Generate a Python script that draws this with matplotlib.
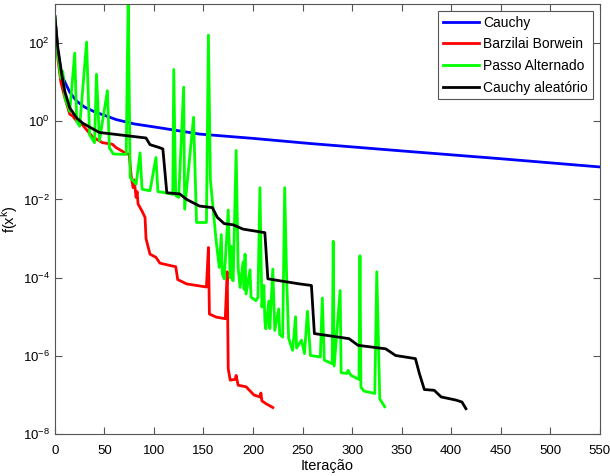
import matplotlib
matplotlib.use("Agg")
import matplotlib.pyplot as plt
import numpy as np

plt.rcParams["font.family"] = ["Liberation Sans", "DejaVu Sans"]

# values, as (iteration, log10 f)
cauchy_it = [0, 3, 6, 9, 15, 22, 30, 40, 62, 80, 106, 146, 200, 257, 350, 450, 550]
cauchy_lf = [2.67, 1.78, 1.3, 1.06, 0.74, 0.51, 0.36, 0.24, 0.04, -0.07, -0.17,
             -0.33, -0.44, -0.57, -0.76, -0.96, -1.17]

bb_it = [0, 3, 6, 10, 15, 18, 22, 28, 38, 48, 58, 62, 73, 75, 77, 79, 80, 82, 83,
         84, 88, 91, 92, 96, 102, 106, 118, 122, 124, 133, 153, 155, 156, 163, 172,
         174, 175, 177, 182, 183, 185, 193, 201, 207, 208, 209, 213, 220]
bb_lf = [2.67, 1.6, 1.0, 0.6, 0.18, 0.13, 0.0, -0.1, -0.4, -0.55, -0.59, -0.68,
         -0.84, -0.84, -1.4, -1.7, -1.5, -1.95, -1.8, -2.12, -2.3, -2.46, -3.0,
         -3.4, -3.48, -3.63, -3.7, -3.72, -4.05, -4.16, -4.24, -3.23, -4.93, -5.01,
         -5.05, -3.85, -6.33, -6.62, -6.6, -6.5, -6.75, -6.79, -7.0, -7.05, -6.95,
         -7.15, -7.22, -7.32]

pa_it = [0, 3, 6, 8, 10, 15, 20, 22, 25, 32, 35, 40, 42, 45, 53, 55, 59, 72, 74,
         76, 82, 86, 88, 96, 102, 104, 109, 119, 120, 122, 125, 130, 131, 140, 143,
         153, 155, 157, 163, 166, 168, 169, 171, 175, 177, 178, 179, 180, 183, 185,
         187, 190, 191, 192, 193, 197, 198, 203, 205, 207, 209, 211, 212, 213, 216,
         217, 220, 222, 226, 227, 230, 232, 234, 236, 240, 243, 244, 249, 252, 255,
         258, 268, 270, 272, 280, 281, 282, 288, 289, 295, 296, 299, 307, 308, 309,
         312, 323, 325, 328, 333]
pa_lf = [2.67, 1.7, 1.1, 1.27, 0.6, 0.25, 1.74, 0.0, -0.13, 2.02, -0.35, -0.55,
         1.2, -0.5, 0.78, -0.68, -0.84, -0.85, 3.2, -1.44, -1.61, -0.81, -1.74,
         -1.78, -0.93, -1.8, -1.82, -1.87, 1.32, -1.9, -1.95, 0.87, -2.25, 0.1,
         -2.59, -2.59, 2.2, -1.5, -3.11, -3.74, -2.9, -3.9, -4.03, -2.27, -4.0,
         -3.2, -4.05, -4.08, -0.75, -3.74, -4.25, -3.6, -4.3, -3.4, -4.42, -3.8,
         -4.5, -4.59, -4.5, -1.7, -4.75, -4.2, -5.1, -5.31, -4.6, -5.3, -3.78,
         -5.35, -4.8, -5.45, -5.52, -1.7, -4.0, -5.55, -5.86, -5.0, -5.8, -5.6,
         -5.94, -4.86, -5.99, -6.03, -4.52, -6.11, -6.2, -3.07, -6.26, -4.33,
         -6.43, -6.45, -6.37, -6.5, -6.6, -3.44, -6.8, -6.9, -6.96, -3.85, -7.1,
         -7.3]

ca_it = [0, 3, 7, 10, 15, 22, 28, 35, 45, 62, 92, 96, 106, 109, 113, 126, 133, 146,
         159, 164, 171, 180, 190, 212, 215, 227, 247, 259, 262, 297, 306, 334, 344,
         364, 368, 373, 383, 390, 405, 411, 415]
ca_lf = [2.67, 1.87, 1.19, 0.76, 0.34, 0.08, -0.05, -0.15, -0.29, -0.34, -0.43,
         -0.6, -0.68, -0.71, -1.83, -1.86, -2.0, -2.17, -2.21, -2.46, -2.62, -2.65,
         -2.76, -2.85, -4.03, -4.08, -4.16, -4.2, -5.43, -5.56, -5.73, -5.82, -5.99,
         -6.07, -6.45, -6.86, -6.88, -7.05, -7.13, -7.18, -7.35]

labels = ["Cauchy", "Barzilai Borwein", "Passo Alternado", "Cauchy aleatório"]
colors = ["#0000ff", "#ff0000", "#00ff00", "#000000"]

fig = plt.figure(figsize=(6.1, 4.76), dpi=100)
ax = fig.add_axes([0.090, 0.088, 0.893, 0.904])

series = [(cauchy_it, cauchy_lf), (bb_it, bb_lf), (pa_it, pa_lf), (ca_it, ca_lf)]
for (it, lf), lab, col in zip(series, labels, colors):
    ax.semilogy(it, 10.0 ** np.array(lf), color=col, lw=2.0, label=lab)

ax.set_xlim(0, 550)
ax.set_ylim(1e-8, 1e3)
ax.set_xticks(np.arange(0, 551, 50))
ax.set_yticks([1e-8, 1e-6, 1e-4, 1e-2, 1e0, 1e2])
ax.minorticks_off()
ax.tick_params(direction="in", top=True, right=True, length=5, labelsize=9.5,
               color="#555555")
ax.tick_params(axis="x", pad=8)
for sp in ax.spines.values():
    sp.set_color("#555555")

ax.set_xlabel("Iteração", fontsize=10.5, labelpad=1)
ax.set_ylabel(r"f(x$^\mathregular{k}$)", fontsize=10.5, labelpad=2)

leg = ax.legend(loc="upper right", fontsize=10, fancybox=False, framealpha=1,
                edgecolor="#555555", handlelength=2.6, handletextpad=0.3,
                borderaxespad=0.5, labelspacing=0.55, borderpad=0.35)
leg.get_frame().set_linewidth(0.8)

fig.savefig("out.png", dpi=100)
